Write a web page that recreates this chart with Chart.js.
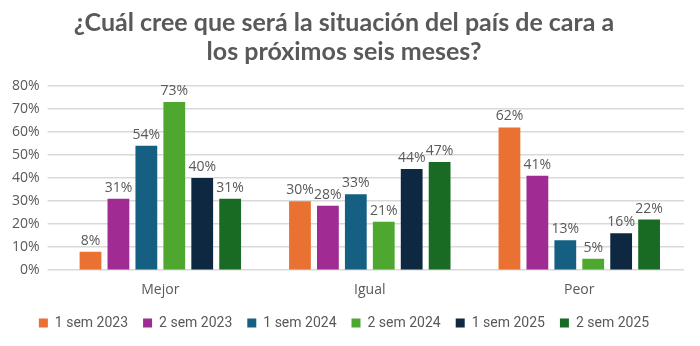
<!DOCTYPE html>
<html>
<head>
<meta charset="utf-8">
<script src="https://cdn.jsdelivr.net/npm/chart.js@4/dist/chart.umd.min.js"></script>
<style>
	html, body { margin: 0; padding: 0; background: #fff; }
	.chart { width: 700px; height: 346px; }
</style>
</head>
<body>
<div class="chart"><canvas id="chartSituacion"></canvas></div>
<script>
const categories = ['Mejor', 'Igual', 'Peor'];
const seriesNames = ['1 sem 2023', '2 sem 2023', '1 sem 2024', '2 sem 2024', '1 sem 2025', '2 sem 2025'];
const sem1_2023 = [8, 30, 62];
const sem2_2023 = [31, 28, 41];
const sem1_2024 = [54, 33, 13];
const sem2_2024 = [73, 21, 5];
const sem1_2025 = [40, 44, 16];
const sem2_2025 = [31, 47, 22];
const yTicks = [0, 10, 20, 30, 40, 50, 60, 70, 80];

const colors = ['#E97132', '#A02B93', '#156082', '#4EA72E', '#0E2841', '#196B24'];
const values = [sem1_2023, sem2_2023, sem1_2024, sem2_2024, sem1_2025, sem2_2025];
const textColor = '#595959';

const valueLabels = {
	id: 'valueLabels',
	afterDatasetsDraw: (chart) => {
		const ctx = chart.ctx;
		ctx.save();
		ctx.font = '14px "Open Sans"';
		ctx.fillStyle = textColor;
		ctx.textAlign = 'center';
		ctx.textBaseline = 'bottom';
		chart.data.datasets.forEach((ds, i) => {
			const meta = chart.getDatasetMeta(i);
			meta.data.forEach((bar, j) => {
				ctx.fillText(ds.data[j] + '%', bar.x, bar.y - 4);
			});
		});
		ctx.restore();
	},
};

const data = {
	labels: categories,
	datasets: seriesNames.map((name, i) => ({
		label: name,
		data: values[i],
		backgroundColor: colors[i],
		borderWidth: 0,
		categoryPercentage: 0.8,
		barPercentage: 0.78,
	})),
};

const config = {
	type: 'bar',
	data: data,
	options: {
		maintainAspectRatio: false,
		responsive: true,
		animation: false,
		layout: { padding: { left: 4, right: 16, top: 6, bottom: 6 } },
		plugins: {
			title: {
				display: true,
				text: ['¿Cuál cree que será la situación del país de cara a', 'los próximos seis meses?'],
				color: textColor,
				font: { family: 'Lato', size: 25, weight: 'bold', lineHeight: 1.14 },
				padding: { top: 3, bottom: 20 },
			},
			legend: {
				position: 'bottom',
				labels: {
					color: textColor,
					font: { family: 'Roboto', size: 14 },
					boxWidth: 9,
					boxHeight: 9,
					padding: 15,
				},
			},
			tooltip: { enabled: false },
		},
		scales: {
			x: {
				grid: { display: false },
				border: { display: false },
				ticks: { color: textColor, font: { family: 'Open Sans', size: 14 } },
			},
			y: {
				min: 0,
				max: 80,
				afterBuildTicks: (axis) => {
					axis.ticks = yTicks.map((v) => ({ value: v }));
				},
				grid: { color: '#d9d9d9', lineWidth: 1.5 },
				border: { display: false },
				ticks: {
					color: textColor,
					font: { family: 'Open Sans', size: 14 },
					padding: 8,
					callback: (v) => v + '%',
				},
			},
		},
	},
	plugins: [valueLabels],
};

const ctx = document.querySelector('#chartSituacion').getContext('2d');
const myChart = new Chart(ctx, config);
</script>
</body>
</html>
